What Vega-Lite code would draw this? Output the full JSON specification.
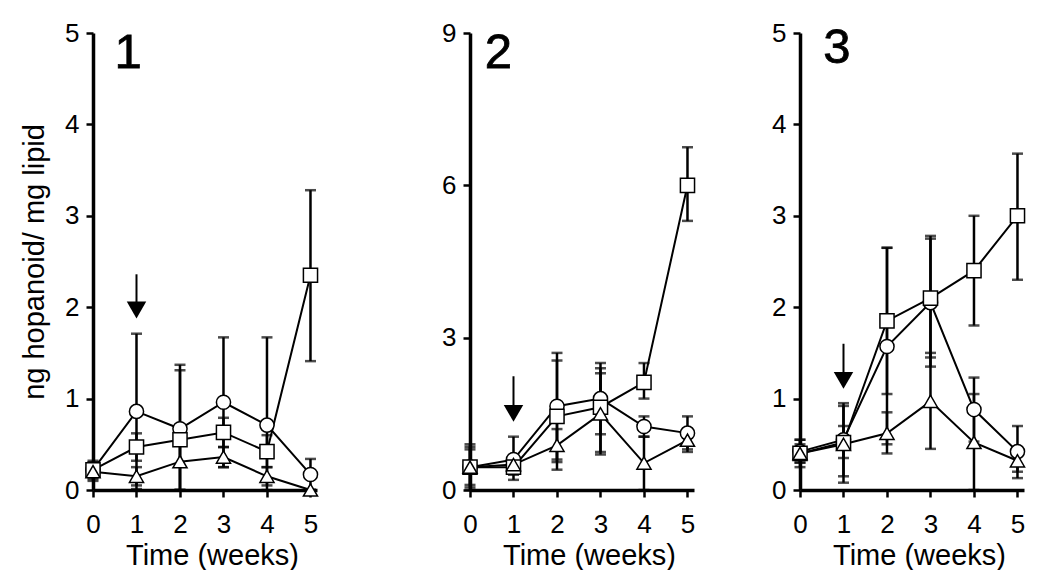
{
  "$schema": "https://vega.github.io/schema/vega-lite/v6.json",
  "padding": {"left": 20, "top": 20, "right": 0, "bottom": 0},
  "spacing": 0,
  "config": {
    "view": {"stroke": null},
    "axis": {
      "grid": false,
      "domainColor": "black",
      "domainWidth": 3.5,
      "tickColor": "black",
      "tickWidth": 2.5,
      "tickSize": 7,
      "labelFont": "Liberation Sans",
      "labelFontSize": 26,
      "labelColor": "black",
      "titleFont": "Liberation Sans",
      "titleFontSize": 29,
      "titleFontWeight": "normal",
      "titleColor": "black",
      "format": "d"
    },
    "axisX": {"labelPadding": 14, "titlePadding": 4, "labelFlush": false},
    "axisY": {"labelPadding": 7}
  },
  "datasets": {
    "d": [
      {"panel": 1, "series": "circle", "week": 0, "y": 0.22, "lo": 0.14, "hi": 0.30},
      {"panel": 1, "series": "circle", "week": 1, "y": 0.86, "lo": 0.01, "hi": 1.71},
      {"panel": 1, "series": "circle", "week": 2, "y": 0.67, "lo": 0.0, "hi": 1.37},
      {"panel": 1, "series": "circle", "week": 3, "y": 0.96, "lo": 0.25, "hi": 1.67},
      {"panel": 1, "series": "circle", "week": 4, "y": 0.71, "lo": 0.0, "hi": 1.67},
      {"panel": 1, "series": "circle", "week": 5, "y": 0.17, "lo": 0.0, "hi": 0.34},
      {"panel": 1, "series": "square", "week": 0, "y": 0.22, "lo": 0.12, "hi": 0.32},
      {"panel": 1, "series": "square", "week": 1, "y": 0.47, "lo": 0.32, "hi": 0.62},
      {"panel": 1, "series": "square", "week": 2, "y": 0.55, "lo": 0.0, "hi": 1.31},
      {"panel": 1, "series": "square", "week": 3, "y": 0.63, "lo": 0.47, "hi": 0.79},
      {"panel": 1, "series": "square", "week": 4, "y": 0.42, "lo": 0.25, "hi": 0.6},
      {"panel": 1, "series": "square", "week": 5, "y": 2.35, "lo": 1.41, "hi": 3.28},
      {"panel": 1, "series": "triangle", "week": 0, "y": 0.2, "lo": 0.1, "hi": 0.3},
      {"panel": 1, "series": "triangle", "week": 1, "y": 0.15, "lo": 0.05, "hi": 0.25},
      {"panel": 1, "series": "triangle", "week": 2, "y": 0.31, "lo": 0.0, "hi": 0.62},
      {"panel": 1, "series": "triangle", "week": 3, "y": 0.36, "lo": 0.25, "hi": 0.47},
      {"panel": 1, "series": "triangle", "week": 4, "y": 0.15, "lo": 0.05, "hi": 0.25},
      {"panel": 1, "series": "triangle", "week": 5, "y": 0.0, "lo": 0.0, "hi": 0.0},
      {"panel": 2, "series": "circle", "week": 0, "y": 0.45, "lo": 0.1, "hi": 0.85},
      {"panel": 2, "series": "circle", "week": 1, "y": 0.6, "lo": 0.2, "hi": 1.05},
      {"panel": 2, "series": "circle", "week": 2, "y": 1.65, "lo": 0.6, "hi": 2.7},
      {"panel": 2, "series": "circle", "week": 3, "y": 1.8, "lo": 1.1, "hi": 2.5},
      {"panel": 2, "series": "circle", "week": 4, "y": 1.25, "lo": 1.05, "hi": 1.45},
      {"panel": 2, "series": "circle", "week": 5, "y": 1.12, "lo": 0.8, "hi": 1.45},
      {"panel": 2, "series": "square", "week": 0, "y": 0.45, "lo": 0.05, "hi": 0.9},
      {"panel": 2, "series": "square", "week": 1, "y": 0.45, "lo": 0.3, "hi": 0.6},
      {"panel": 2, "series": "square", "week": 2, "y": 1.45, "lo": 0.4, "hi": 2.55},
      {"panel": 2, "series": "square", "week": 3, "y": 1.63, "lo": 0.75, "hi": 2.4},
      {"panel": 2, "series": "square", "week": 4, "y": 2.12, "lo": 1.8, "hi": 2.5},
      {"panel": 2, "series": "square", "week": 5, "y": 6.0, "lo": 5.3, "hi": 6.75},
      {"panel": 2, "series": "triangle", "week": 0, "y": 0.45, "lo": 0.0, "hi": 0.8},
      {"panel": 2, "series": "triangle", "week": 1, "y": 0.5, "lo": 0.35, "hi": 0.65},
      {"panel": 2, "series": "triangle", "week": 2, "y": 0.88, "lo": 0.55, "hi": 1.2},
      {"panel": 2, "series": "triangle", "week": 3, "y": 1.5, "lo": 0.7, "hi": 2.3},
      {"panel": 2, "series": "triangle", "week": 4, "y": 0.53, "lo": 0.0, "hi": 1.05},
      {"panel": 2, "series": "triangle", "week": 5, "y": 0.98, "lo": 0.75, "hi": 1.2},
      {"panel": 3, "series": "circle", "week": 0, "y": 0.42, "lo": 0.3, "hi": 0.55},
      {"panel": 3, "series": "circle", "week": 1, "y": 0.55, "lo": 0.15, "hi": 0.95},
      {"panel": 3, "series": "circle", "week": 2, "y": 1.57, "lo": 0.5, "hi": 2.65},
      {"panel": 3, "series": "circle", "week": 3, "y": 2.05, "lo": 1.35, "hi": 2.75},
      {"panel": 3, "series": "circle", "week": 4, "y": 0.88, "lo": 0.53, "hi": 1.23},
      {"panel": 3, "series": "circle", "week": 5, "y": 0.42, "lo": 0.13, "hi": 0.7},
      {"panel": 3, "series": "square", "week": 0, "y": 0.4, "lo": 0.3, "hi": 0.5},
      {"panel": 3, "series": "square", "week": 1, "y": 0.52, "lo": 0.35, "hi": 0.7},
      {"panel": 3, "series": "square", "week": 2, "y": 1.85, "lo": 1.05, "hi": 2.65},
      {"panel": 3, "series": "square", "week": 3, "y": 2.1, "lo": 1.45, "hi": 2.78},
      {"panel": 3, "series": "square", "week": 4, "y": 2.4, "lo": 1.8, "hi": 3.0},
      {"panel": 3, "series": "square", "week": 5, "y": 3.0, "lo": 2.3, "hi": 3.68},
      {"panel": 3, "series": "triangle", "week": 0, "y": 0.4, "lo": 0.25, "hi": 0.55},
      {"panel": 3, "series": "triangle", "week": 1, "y": 0.5, "lo": 0.08, "hi": 0.92},
      {"panel": 3, "series": "triangle", "week": 2, "y": 0.62, "lo": 0.4, "hi": 0.85},
      {"panel": 3, "series": "triangle", "week": 3, "y": 0.97, "lo": 0.45, "hi": 1.5},
      {"panel": 3, "series": "triangle", "week": 4, "y": 0.52, "lo": 0.0, "hi": 1.05},
      {"panel": 3, "series": "triangle", "week": 5, "y": 0.32, "lo": 0.2, "hi": 0.45}
    ],
    "arrows": [
      {"panel": 1, "week": 1, "top": 2.36, "head": 1.97},
      {"panel": 2, "week": 1, "top": 2.24, "head": 1.51},
      {"panel": 3, "week": 1, "top": 1.6, "head": 1.2}
    ],
    "labels": [
      {"panel": 1, "x": 0.81, "y": 4.62, "text": "1"},
      {"panel": 2, "x": 0.65, "y": 8.31, "text": "2"},
      {"panel": 3, "x": 0.85, "y": 4.67, "text": "3"}
    ]
  },
  "hconcat": [
    {
      "width": 224, "height": 457,
      "layer": [
        {
          "data": {"name": "d"}, "transform": [{"filter": "datum.panel == 1"}],
          "mark": {"type": "errorbar", "ticks": {"size": 11, "thickness": 2.5}, "rule": {"strokeWidth": 2.5}, "color": "black"},
          "encoding": {
            "x": {"field": "week", "type": "quantitative", "scale": {"domain": [0, 5.15], "nice": false}, "axis": {"values": [0,1,2,3,4,5], "title": "Time (weeks)", "titleX": 119}},
            "y": {"field": "lo", "type": "quantitative", "scale": {"domain": [0, 5], "nice": false}, "axis": {"values": [0,1,2,3,4,5], "title": "ng hopanoid/ mg lipid", "minExtent": 30, "maxExtent": 30, "titlePadding": 14}},
            "y2": {"field": "hi"},
            "detail": {"field": "series"}
          }
        },
        {
          "data": {"name": "d"}, "transform": [{"filter": "datum.panel == 1"}],
          "mark": {"type": "line", "color": "black", "strokeWidth": 2},
          "encoding": {
            "x": {"field": "week", "type": "quantitative"},
            "y": {"field": "y", "type": "quantitative", "title": "ng hopanoid/ mg lipid"},
            "detail": {"field": "series"}
          }
        },
        {
          "data": {"name": "d"}, "transform": [{"filter": "datum.panel == 1"}],
          "mark": {"type": "point", "filled": false, "fill": "white", "fillOpacity": 1, "stroke": "black", "strokeWidth": 1.5, "size": 200, "opacity": 1},
          "encoding": {
            "x": {"field": "week", "type": "quantitative"},
            "y": {"field": "y", "type": "quantitative", "title": "ng hopanoid/ mg lipid"},
            "shape": {"field": "series", "type": "nominal", "scale": {"domain": ["circle", "square", "triangle"], "range": ["circle", "square", "triangle-up"]}, "legend": null}
          }
        },
        {
          "data": {"name": "arrows"}, "transform": [{"filter": "datum.panel == 1"}],
          "mark": {"type": "rule", "color": "black", "strokeWidth": 2},
          "encoding": {
            "x": {"field": "week", "type": "quantitative"},
            "y": {"field": "top", "type": "quantitative", "title": "ng hopanoid/ mg lipid"},
            "y2": {"field": "head"}
          }
        },
        {
          "data": {"name": "arrows"}, "transform": [{"filter": "datum.panel == 1"}],
          "mark": {"type": "point", "shape": "triangle-down", "filled": true, "color": "black", "size": 380, "opacity": 1},
          "encoding": {
            "x": {"field": "week", "type": "quantitative"},
            "y": {"field": "head", "type": "quantitative", "title": "ng hopanoid/ mg lipid"}
          }
        },
        {
          "data": {"name": "labels"}, "transform": [{"filter": "datum.panel == 1"}],
          "mark": {"type": "text", "font": "Liberation Sans", "fontSize": 49, "color": "black", "align": "center", "baseline": "alphabetic", "stroke": "black", "strokeWidth": 0.8},
          "encoding": {
            "x": {"field": "x", "type": "quantitative"},
            "y": {"field": "y", "type": "quantitative", "title": "ng hopanoid/ mg lipid"},
            "text": {"field": "text"}
          }
        }
      ]
    },
    {
      "width": 224, "height": 457,
      "layer": [
        {
          "data": {"name": "d"}, "transform": [{"filter": "datum.panel == 2"}],
          "mark": {"type": "errorbar", "ticks": {"size": 11, "thickness": 2.5}, "rule": {"strokeWidth": 2.5}, "color": "black"},
          "encoding": {
            "x": {"field": "week", "type": "quantitative", "scale": {"domain": [0, 5.15], "nice": false}, "axis": {"values": [0,1,2,3,4,5], "title": "Time (weeks)", "titleX": 119}},
            "y": {"field": "lo", "type": "quantitative", "scale": {"domain": [0, 9], "nice": false}, "axis": {"values": [0,3,6,9], "title": null, "minExtent": 149, "maxExtent": 149}},
            "y2": {"field": "hi"},
            "detail": {"field": "series"}
          }
        },
        {
          "data": {"name": "d"}, "transform": [{"filter": "datum.panel == 2"}],
          "mark": {"type": "line", "color": "black", "strokeWidth": 2},
          "encoding": {
            "x": {"field": "week", "type": "quantitative"},
            "y": {"field": "y", "type": "quantitative", "title": null},
            "detail": {"field": "series"}
          }
        },
        {
          "data": {"name": "d"}, "transform": [{"filter": "datum.panel == 2"}],
          "mark": {"type": "point", "filled": false, "fill": "white", "fillOpacity": 1, "stroke": "black", "strokeWidth": 1.5, "size": 200, "opacity": 1},
          "encoding": {
            "x": {"field": "week", "type": "quantitative"},
            "y": {"field": "y", "type": "quantitative", "title": null},
            "shape": {"field": "series", "type": "nominal", "scale": {"domain": ["circle", "square", "triangle"], "range": ["circle", "square", "triangle-up"]}, "legend": null}
          }
        },
        {
          "data": {"name": "arrows"}, "transform": [{"filter": "datum.panel == 2"}],
          "mark": {"type": "rule", "color": "black", "strokeWidth": 2},
          "encoding": {
            "x": {"field": "week", "type": "quantitative"},
            "y": {"field": "top", "type": "quantitative", "title": null},
            "y2": {"field": "head"}
          }
        },
        {
          "data": {"name": "arrows"}, "transform": [{"filter": "datum.panel == 2"}],
          "mark": {"type": "point", "shape": "triangle-down", "filled": true, "color": "black", "size": 380, "opacity": 1},
          "encoding": {
            "x": {"field": "week", "type": "quantitative"},
            "y": {"field": "head", "type": "quantitative", "title": null}
          }
        },
        {
          "data": {"name": "labels"}, "transform": [{"filter": "datum.panel == 2"}],
          "mark": {"type": "text", "font": "Liberation Sans", "fontSize": 49, "color": "black", "align": "center", "baseline": "alphabetic", "stroke": "black", "strokeWidth": 0.8},
          "encoding": {
            "x": {"field": "x", "type": "quantitative"},
            "y": {"field": "y", "type": "quantitative", "title": null},
            "text": {"field": "text"}
          }
        }
      ]
    },
    {
      "width": 224, "height": 457,
      "layer": [
        {
          "data": {"name": "d"}, "transform": [{"filter": "datum.panel == 3"}],
          "mark": {"type": "errorbar", "ticks": {"size": 11, "thickness": 2.5}, "rule": {"strokeWidth": 2.5}, "color": "black"},
          "encoding": {
            "x": {"field": "week", "type": "quantitative", "scale": {"domain": [0, 5.15], "nice": false}, "axis": {"values": [0,1,2,3,4,5], "title": "Time (weeks)", "titleX": 119}},
            "y": {"field": "lo", "type": "quantitative", "scale": {"domain": [0, 5], "nice": false}, "axis": {"values": [0,1,2,3,4,5], "title": null, "minExtent": 102, "maxExtent": 102}},
            "y2": {"field": "hi"},
            "detail": {"field": "series"}
          }
        },
        {
          "data": {"name": "d"}, "transform": [{"filter": "datum.panel == 3"}],
          "mark": {"type": "line", "color": "black", "strokeWidth": 2},
          "encoding": {
            "x": {"field": "week", "type": "quantitative"},
            "y": {"field": "y", "type": "quantitative", "title": null},
            "detail": {"field": "series"}
          }
        },
        {
          "data": {"name": "d"}, "transform": [{"filter": "datum.panel == 3"}],
          "mark": {"type": "point", "filled": false, "fill": "white", "fillOpacity": 1, "stroke": "black", "strokeWidth": 1.5, "size": 200, "opacity": 1},
          "encoding": {
            "x": {"field": "week", "type": "quantitative"},
            "y": {"field": "y", "type": "quantitative", "title": null},
            "shape": {"field": "series", "type": "nominal", "scale": {"domain": ["circle", "square", "triangle"], "range": ["circle", "square", "triangle-up"]}, "legend": null}
          }
        },
        {
          "data": {"name": "arrows"}, "transform": [{"filter": "datum.panel == 3"}],
          "mark": {"type": "rule", "color": "black", "strokeWidth": 2},
          "encoding": {
            "x": {"field": "week", "type": "quantitative"},
            "y": {"field": "top", "type": "quantitative", "title": null},
            "y2": {"field": "head"}
          }
        },
        {
          "data": {"name": "arrows"}, "transform": [{"filter": "datum.panel == 3"}],
          "mark": {"type": "point", "shape": "triangle-down", "filled": true, "color": "black", "size": 380, "opacity": 1},
          "encoding": {
            "x": {"field": "week", "type": "quantitative"},
            "y": {"field": "head", "type": "quantitative", "title": null}
          }
        },
        {
          "data": {"name": "labels"}, "transform": [{"filter": "datum.panel == 3"}],
          "mark": {"type": "text", "font": "Liberation Sans", "fontSize": 49, "color": "black", "align": "center", "baseline": "alphabetic", "stroke": "black", "strokeWidth": 0.8},
          "encoding": {
            "x": {"field": "x", "type": "quantitative"},
            "y": {"field": "y", "type": "quantitative", "title": null},
            "text": {"field": "text"}
          }
        }
      ]
    }
  ]
}
